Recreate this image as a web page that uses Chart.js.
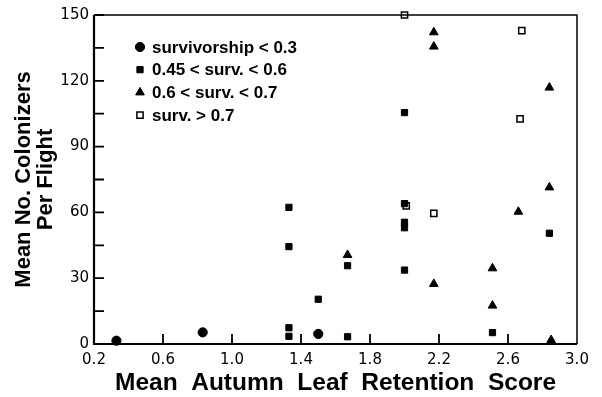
<!DOCTYPE html>
<html>
<head>
<meta charset="UTF-8">
<script src="https://cdn.jsdelivr.net/npm/chart.js@4.4.0/dist/chart.umd.min.js"></script>
<style>
  * { margin: 0; padding: 0; }
  body { background: #fff; width: 602px; height: 397px; overflow: hidden; }
  #wrap { position: relative; width: 602px; height: 397px; }
</style>
</head>
<body>
<div id="wrap"><canvas id="c" width="602" height="397"></canvas></div>
<script>
// series
const lowX = [0.33, 0.83, 1.50];
const lowY = [1.5, 5.3, 4.6];

const midX = [1.33, 1.33, 1.33, 1.33, 1.50, 1.67, 1.67, 2.00, 2.00, 2.00, 2.00, 2.00, 2.51, 2.84];
const midY = [62.3, 44.4, 7.4, 3.5, 20.4, 35.7, 3.3, 33.7, 53.0, 55.5, 64.0, 105.5, 5.2, 50.5];

const highX = [1.67, 2.17, 2.17, 2.17, 2.51, 2.51, 2.66, 2.84, 2.85, 2.84];
const highY = [40.6, 27.4, 135.6, 142.1, 34.5, 17.5, 60.3, 71.4, 1.8, 116.9];

const topX = [2.00, 2.01, 2.17, 2.68, 2.67];
const topY = [150, 63.0, 59.6, 142.9, 102.6];

const seriesLabels = ['survivorship < 0.3', '0.45 < surv. < 0.6', '0.6 < surv. < 0.7', 'surv. > 0.7'];

const xTicks = [0.2, 0.6, 1.0, 1.4, 1.8, 2.2, 2.6, 3.0];
const yTicks = [0, 15, 30, 45, 60, 75, 90, 105, 120, 135, 150];
const yLabelled = [0, 30, 60, 90, 120, 150];

function pts(xs, ys) {
  return xs.map((x, i) => ({ x: x, y: ys[i] }));
}

// box, inward tick marks and the legend inside the plot
const decor = {
  id: 'decor',
  afterDraw(chart) {
    const ctx = chart.ctx;
    const a = chart.chartArea;
    const xs = chart.scales.x, ys = chart.scales.y;
    ctx.save();
    ctx.strokeStyle = '#000';
    ctx.lineWidth = 1.5;
    ctx.beginPath();
    ctx.moveTo(a.left, a.top); ctx.lineTo(a.right, a.top); ctx.lineTo(a.right, a.bottom);
    ctx.stroke();
    ctx.lineWidth = 2.2;
    ctx.beginPath();
    ctx.moveTo(a.left, a.top); ctx.lineTo(a.left, a.bottom); ctx.lineTo(a.right, a.bottom);
    ctx.stroke();

    ctx.lineWidth = 1.8;
    ctx.beginPath();
    yTicks.forEach(v => {
      const p = ys.getPixelForValue(v);
      ctx.moveTo(a.left, p); ctx.lineTo(a.left + 10, p);
    });
    xTicks.slice(1, -1).forEach(v => {
      const p = xs.getPixelForValue(v);
      ctx.moveTo(p, a.bottom); ctx.lineTo(p, a.bottom - 10);
    });
    ctx.stroke();

    // legend
    ctx.font = 'bold 17px "Liberation Sans", Arial, sans-serif';
    ctx.textBaseline = 'middle';
    chart.data.datasets.forEach((ds, i) => {
      const y = 47 + i * 22.7;
      ctx.fillStyle = ds.pointBackgroundColor;
      ctx.strokeStyle = '#000';
      ctx.lineWidth = ds.pointBorderWidth;
      Chart.helpers.drawPoint(ctx, {
        pointStyle: ds.pointStyle, radius: ds.pointRadius, rotation: 0, borderWidth: ds.pointBorderWidth
      }, 140, y);
      ctx.fillStyle = '#000';
      ctx.fillText(ds.label, 152, y + 1);
    });
    ctx.restore();
  }
};

new Chart(document.getElementById('c'), {
  type: 'scatter',
  data: {
    datasets: [
      { label: seriesLabels[0], data: pts(lowX, lowY), pointStyle: 'circle', pointRadius: 4.6,
        pointBackgroundColor: '#000', pointBorderColor: '#000', pointBorderWidth: 1 },
      { label: seriesLabels[1], data: pts(midX, midY), pointStyle: 'rect', pointRadius: 4.4,
        pointBackgroundColor: '#000', pointBorderColor: '#000', pointBorderWidth: 1 },
      { label: seriesLabels[2], data: pts(highX, highY), pointStyle: 'triangle', pointRadius: 5,
        pointBackgroundColor: '#000', pointBorderColor: '#000', pointBorderWidth: 1 },
      { label: seriesLabels[3], data: pts(topX, topY), pointStyle: 'rect', pointRadius: 4.4,
        pointBackgroundColor: '#fff', pointBorderColor: '#000', pointBorderWidth: 1.5 }
    ]
  },
  options: {
    responsive: false,
    animation: false,
    clip: false,
    layout: { padding: { top: 15, right: 25, left: 0, bottom: 0 } },
    plugins: { legend: { display: false }, tooltip: { enabled: false } },
    scales: {
      x: {
        type: 'linear', min: 0.2, max: 3.0,
        afterBuildTicks: s => { s.ticks = xTicks.map(v => ({ value: v })); },
        afterFit: s => { s.height = 53; },
        grid: { display: false, drawTicks: false },
        border: { display: false },
        ticks: {
          padding: 7, color: '#000', maxRotation: 0, autoSkip: false,
          font: { family: '"DejaVu Sans", sans-serif', size: 15 },
          callback: v => v.toFixed(1)
        },
        title: {
          display: true, text: 'Mean  Autumn  Leaf  Retention  Score', color: '#000',
          font: { family: '"Liberation Sans", Arial, sans-serif', size: 24.5, weight: 'bold', lineHeight: 1.0 },
          padding: { top: 0, bottom: 2 }
        }
      },
      y: {
        type: 'linear', min: 0, max: 150,
        afterBuildTicks: s => { s.ticks = yTicks.map(v => ({ value: v })); },
        afterFit: s => { s.width = 94; },
        grid: { display: false, drawTicks: false },
        border: { display: false },
        ticks: {
          padding: 5, color: '#000', autoSkip: false,
          font: { family: '"DejaVu Sans", sans-serif', size: 15 },
          callback: v => (yLabelled.includes(v) ? String(v) : '')
        },
        title: {
          display: true, text: ['Mean No. Colonizers', 'Per Flight'], color: '#000',
          font: { family: '"Liberation Sans", Arial, sans-serif', size: 22, weight: 'bold', lineHeight: 1.0 },
          padding: { top: 13, bottom: 0 }
        }
      }
    }
  },
  plugins: [decor]
});
</script>
</body>
</html>
